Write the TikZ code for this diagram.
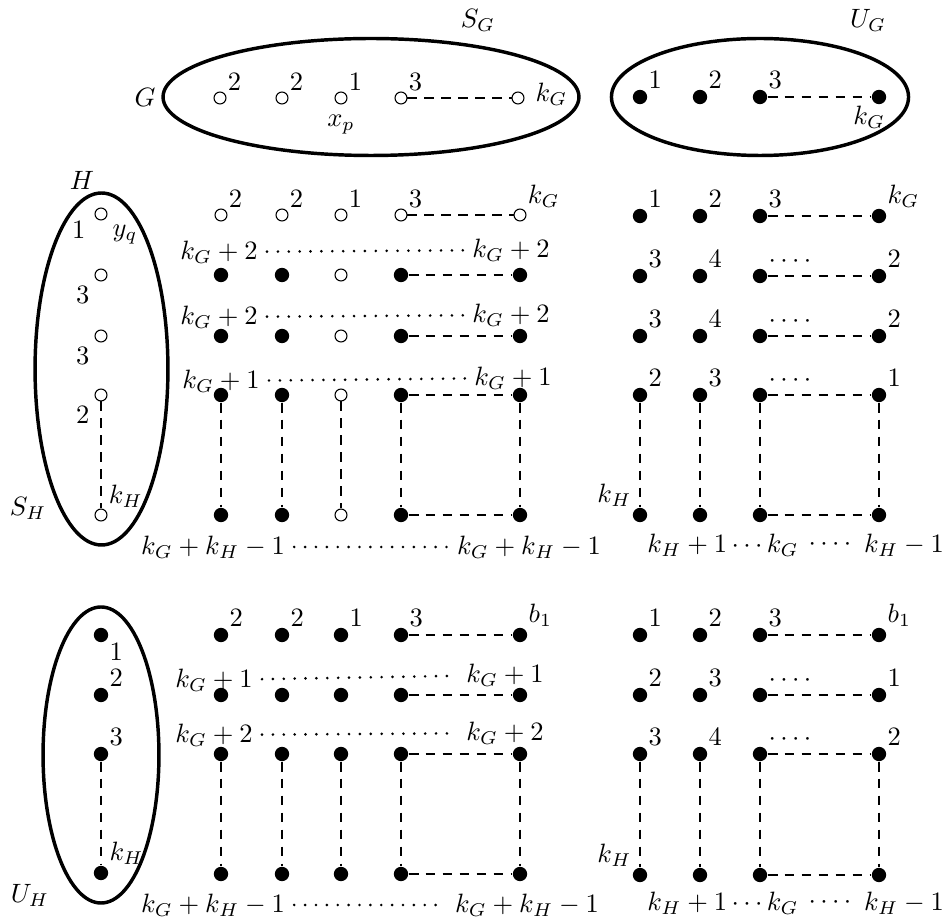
\documentclass[tikz,border=0pt]{standalone}
\usetikzlibrary{shapes.geometric,positioning}
\tikzset{
  ov/.style   ={circle, draw, inner sep=0pt, minimum size=4.5pt},
  fv/.style   ={circle, fill, inner sep=0pt, minimum size=5.4pt},
  setel/.style={ellipse, draw, line width=1.3pt, inner sep=0pt},
  dsh/.style  ={dash pattern=on 3.7pt off 2.7pt},
  dts/.style  ={line cap=round, line width=1.1pt, dash pattern=on 0pt off 4.1pt},
  every label/.style={inner sep=1pt},
}

\begin{document}
\begin{tikzpicture}[x=0.377pt, y=-0.377pt]
\useasboundingbox (0,0) rectangle (942,918);

% the two sets of G
\node[setel, minimum width=156.8pt, minimum height=44.1pt] (SG) at (371,97) {};
\node[setel, minimum width=112pt, minimum height=44.1pt] (UG) at (760,97) {};
\node (Gl) at (145,97) {$G$};
\node (SGl) at (478,20) {$S_G$};
\node (UGl) at (868,20) {$U_G$};
\foreach \x/\n/\l in {220/1/2,282/2/2,341/3/1,401/4/3}
  \node[ov, label={45:$\l$}] (g\n) at (\x,98) {};
\node[ov, label={[label distance=3pt, yshift=1.5pt]right:$k_G$}] (g5) at (518,98) {};
\node[below=0.5pt of g3] (xp) {$x_p$};
\draw[dsh] (g4) -- (g5);
\foreach \x/\n/\l in {640/1/1,700/2/2,760/3/3}
  \node[fv, label={45:$\l$}] (u\n) at (\x,97) {};
\node[fv, label={[xshift=5.5pt]below left:$k_G$}] (u4) at (879,97) {};
\draw[dsh] (u3) -- (u4);

% the set S_H of H
\node[setel, minimum width=50.1pt, minimum height=132.7pt] (SH) at (101.5,369) {};
\node (Hl) at (82,180) {$H$};
\node (SHl) at (28,508) {$S_H$};
\node[ov, label={[label distance=2.5pt]-160:$1$}, label={[label distance=2pt]below right:$y_q$}] (h1) at (101,214) {};
\node[ov, label={[label distance=2pt]below left:$3$}] (h2) at (101,275) {};
\node[ov, label={[label distance=2pt]below left:$3$}] (h3) at (101,336) {};
\node[ov, label={[label distance=2pt]below left:$2$}] (h4) at (101,395) {};
\node[ov, label={45:$k_H$}] (h5) at (101,515) {};
\draw[dsh] (h4) -- (h5);

% S_G x S_H
\foreach \x/\n/\l in {221/1/2,282/2/2,341/3/1,401/4/3}
  \node[ov, label={45:$\l$}] (a1\n) at (\x,215) {};
\node[ov, label={45:$k_G$}] (a15) at (520,215) {};
\foreach \x/\n/\s in {221/1/fv,282/2/fv,341/3/ov,401/4/fv,520/5/fv} {
  \node[\s] (a2\n) at (\x,275) {};
  \node[\s] (a3\n) at (\x,336) {};
  \node[\s] (a4\n) at (\x,395) {};
  \node[\s] (a5\n) at (\x,515) {};
  \draw[dsh] (a4\n) -- (a5\n);
}
\draw[dsh] (a14) -- (a15) (a24) -- (a25) (a34) -- (a35) (a44) -- (a45) (a54) -- (a55);
\node (p1) at (219,252) {$k_G+2$}; \node (q1) at (511,250) {$k_G+2$};
\node (p2) at (219,317) {$k_G+2$}; \node (q2) at (511,315) {$k_G+2$};
\node (p3) at (221,381) {$k_G+1$}; \node (q3) at (513,378) {$k_G+1$};
\node (p4) at (213,547) {$k_G+k_H-1$}; \node (q4) at (529,547) {$k_G+k_H-1$};
\foreach \n in {1,...,4} \draw[dts] (p\n) -- (q\n);

% U_G x S_H
\foreach \x/\n/\l in {640/1/1,700/2/2,760/3/3}
  \node[fv, label={45:$\l$}] (b1\n) at (\x,216) {};
\node[fv, label={45:$k_G$}] (b14) at (879,216) {};
\foreach \r/\y/\a/\b/\c in {2/276/3/4/2,3/336/3/4/2,4/395/2/3/1} {
  \node[fv, label={45:$\a$}] (b\r1) at (640,\y) {};
  \node[fv, label={45:$\b$}] (b\r2) at (700,\y) {};
  \node[fv, label={above right:$\cdots\cdotp$}] (b\r3) at (760,\y) {};
  \node[fv, label={45:$\c$}] (b\r4) at (879,\y) {};
}
\node[fv, label={135:$k_H$}] (b51) at (640,515) {};
\foreach \x/\n in {700/2,760/3,879/4} \node[fv] (b5\n) at (\x,515) {};
\foreach \n in {1,...,4} \draw[dsh] (b4\n) -- (b5\n);
\draw[dsh] (b13) -- (b14) (b23) -- (b24) (b33) -- (b34) (b43) -- (b44) (b53) -- (b54);
\node (r1) at (723,545) {$k_H+1\cdots k_G$};
\node (r2) at (830,545) {$\cdots\cdotp$};
\node (r3) at (904,545) {$k_H-1$};

% the set U_H of H
\node[setel, minimum width=43.7pt, minimum height=111.6pt] (UH) at (101,755) {};
\node (UHl) at (30,895) {$U_H$};
\node[fv, label={-45:$1$}] (v1) at (101,635) {};
\node[fv, label={45:$2$}] (v2) at (101,695) {};
\node[fv, label={45:$3$}] (v3) at (101,754) {};
\node[fv, label={45:$k_H$}] (v4) at (101,873) {};
\draw[dsh] (v3) -- (v4);

% S_G x U_H
\foreach \x/\n/\l in {221/1/2,282/2/2,341/3/1,401/4/3}
  \node[fv, label={45:$\l$}] (c1\n) at (\x,635) {};
\node[fv, label={45:$b_1$}] (c15) at (520,635) {};
\foreach \x/\n in {221/1,282/2,341/3,401/4,520/5} {
  \node[fv] (c2\n) at (\x,695) {};
  \node[fv] (c3\n) at (\x,754) {};
  \node[fv] (c4\n) at (\x,874) {};
  \draw[dsh] (c3\n) -- (c4\n);
}
\draw[dsh] (c14) -- (c15) (c24) -- (c25) (c34) -- (c35) (c44) -- (c45);
\node (s1) at (214,680) {$k_G+1$}; \node (t1) at (505,675) {$k_G+1$};
\node (s2) at (214,735) {$k_G+2$}; \node (t2) at (505,733) {$k_G+2$};
\node (s3) at (213,905) {$k_G+k_H-1$}; \node (t3) at (527,905) {$k_G+k_H-1$};
\foreach \n in {1,...,3} \draw[dts] (s\n) -- (t\n);

% U_G x U_H
\foreach \x/\n/\l in {640/1/1,700/2/2,760/3/3}
  \node[fv, label={45:$\l$}] (d1\n) at (\x,635) {};
\node[fv, label={45:$b_1$}] (d14) at (879,635) {};
\foreach \r/\y/\a/\b/\c in {2/695/2/3/1,3/754/3/4/2} {
  \node[fv, label={45:$\a$}] (d\r1) at (640,\y) {};
  \node[fv, label={45:$\b$}] (d\r2) at (700,\y) {};
  \node[fv, label={above right:$\cdots\cdotp$}] (d\r3) at (760,\y) {};
  \node[fv, label={45:$\c$}] (d\r4) at (879,\y) {};
}
\node[fv, label={135:$k_H$}] (d41) at (640,875) {};
\foreach \x/\n in {700/2,760/3,879/4} \node[fv] (d4\n) at (\x,875) {};
\foreach \n in {1,...,4} \draw[dsh] (d3\n) -- (d4\n);
\draw[dsh] (d13) -- (d14) (d23) -- (d24) (d33) -- (d34) (d43) -- (d44);
\node (w1) at (723,903) {$k_H+1\cdots k_G$};
\node (w2) at (830,903) {$\cdots\cdotp$};
\node (w3) at (904,903) {$k_H-1$};
\end{tikzpicture}
\end{document}
